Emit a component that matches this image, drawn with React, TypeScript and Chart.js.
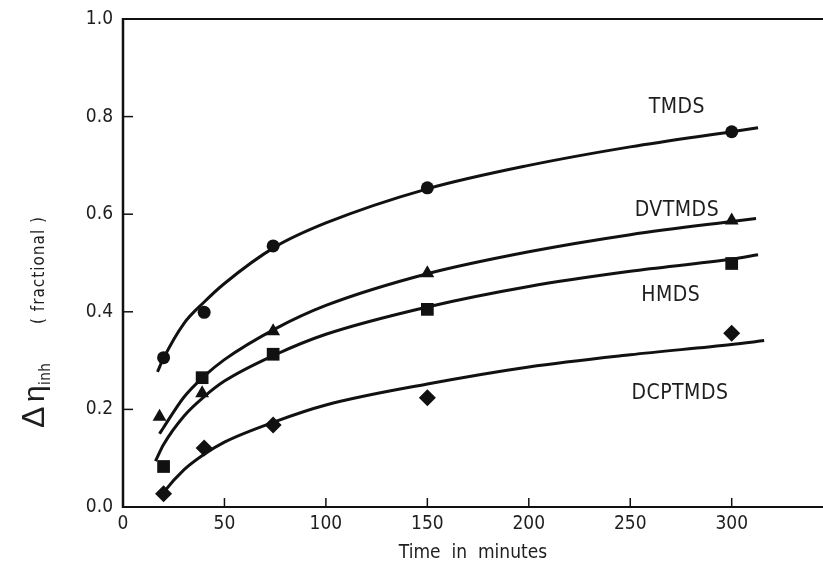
import React, { useEffect, useRef } from 'react';
import { Chart, registerables } from 'chart.js';

Chart.register(...registerables);

// ---------- data ----------
const SERIES_NAMES = ['TMDS', 'DVTMDS', 'HMDS', 'DCPTMDS'];
const POINT_STYLES = ['circle', 'triangle', 'rect', 'rectRot'];
const POINT_RADII = [6.5, 8, 9, 8.5];

// measured points (time in minutes, fractional Δη_inh)
const TMDS_X = [20, 40, 74, 150, 300];
const TMDS_Y = [0.306, 0.399, 0.535, 0.654, 0.769];
const DVTMDS_X = [18, 39, 74, 150, 300];
const DVTMDS_Y = [0.185, 0.233, 0.36, 0.479, 0.587];
const HMDS_X = [20, 39, 74, 150, 300];
const HMDS_Y = [0.083, 0.265, 0.313, 0.405, 0.499];
const DCPTMDS_X = [20, 40, 74, 150, 300];
const DCPTMDS_Y = [0.027, 0.121, 0.168, 0.224, 0.356];

// fitted curves
const TMDS_CURVE_X = [17, 20, 30, 40, 50, 75, 100, 150, 200, 250, 300, 313];
const TMDS_CURVE_Y = [0.277, 0.305, 0.376, 0.42, 0.458, 0.533, 0.582, 0.652, 0.7, 0.738, 0.769, 0.777];
const DVTMDS_CURVE_X = [18, 20, 30, 40, 50, 75, 100, 150, 200, 250, 300, 312];
const DVTMDS_CURVE_Y = [0.15, 0.163, 0.225, 0.268, 0.302, 0.365, 0.413, 0.478, 0.523, 0.558, 0.585, 0.591];
const HMDS_CURVE_X = [16, 20, 30, 40, 50, 75, 100, 150, 200, 250, 300, 313];
const HMDS_CURVE_Y = [0.094, 0.128, 0.186, 0.226, 0.258, 0.312, 0.354, 0.41, 0.452, 0.483, 0.508, 0.517];
const DCPTMDS_CURVE_X = [19, 20, 30, 40, 50, 75, 100, 150, 200, 250, 300, 316];
const DCPTMDS_CURVE_Y = [0.024, 0.03, 0.076, 0.108, 0.133, 0.175, 0.209, 0.252, 0.287, 0.312, 0.333, 0.341];

// series name labels, placed in data coordinates
const LABEL_X = [273, 273, 270, 274.5];
const LABEL_Y = [0.818, 0.607, 0.434, 0.233];

const X_TICKS = [0, 50, 100, 150, 200, 250, 300];
const Y_TICKS = [0, 0.2, 0.4, 0.6, 0.8, 1.0];
const X_MAX = 345;

// ---------- styles ----------
const INK = '#111111';
const TEXT = '#1e1e1e';
const COND = "'DejaVu Sans Condensed', 'Liberation Sans Narrow', 'Liberation Sans', sans-serif";
const SANS = "'Liberation Sans', 'DejaVu Sans', sans-serif";

const pts = (xs: number[], ys: number[]) => xs.map((x, i) => ({ x, y: ys[i] }));

const MARKERS = [
  pts(TMDS_X, TMDS_Y),
  pts(DVTMDS_X, DVTMDS_Y),
  pts(HMDS_X, HMDS_Y),
  pts(DCPTMDS_X, DCPTMDS_Y),
];
const CURVES = [
  pts(TMDS_CURVE_X, TMDS_CURVE_Y),
  pts(DVTMDS_CURVE_X, DVTMDS_CURVE_Y),
  pts(HMDS_CURVE_X, HMDS_CURVE_Y),
  pts(DCPTMDS_CURVE_X, DCPTMDS_CURVE_Y),
];

const framePlugin = {
  id: 'frame',
  beforeDatasetsDraw(chart: any) {
    const { ctx, chartArea: a, scales } = chart;
    const x = scales.x;
    const y = scales.y;
    ctx.save();
    ctx.strokeStyle = INK;
    ctx.lineCap = 'butt';
    ctx.lineWidth = 2.5;
    ctx.beginPath();
    ctx.moveTo(a.left, a.top - 1);
    ctx.lineTo(a.left, a.bottom + 1);
    ctx.stroke();
    ctx.lineWidth = 2;
    ctx.beginPath();
    ctx.moveTo(a.left - 1, a.bottom);
    ctx.lineTo(a.right, a.bottom);
    ctx.stroke();
    ctx.beginPath();
    ctx.moveTo(a.left - 1, a.top);
    ctx.lineTo(a.right, a.top);
    ctx.stroke();
    ctx.lineWidth = 1.5;
    X_TICKS.forEach((v) => {
      if (v <= 0) return;
      const px = x.getPixelForValue(v);
      ctx.beginPath();
      ctx.moveTo(px, a.bottom);
      ctx.lineTo(px, a.bottom - 9);
      ctx.stroke();
    });
    Y_TICKS.forEach((v) => {
      if (v <= 0 || v >= 1) return;
      const py = y.getPixelForValue(v);
      ctx.beginPath();
      ctx.moveTo(a.left, py);
      ctx.lineTo(a.left + 10, py);
      ctx.stroke();
    });
    ctx.restore();
  },
};

const labelPlugin = {
  id: 'seriesLabels',
  afterDatasetsDraw(chart: any) {
    const { ctx, scales } = chart;
    ctx.save();
    ctx.fillStyle = TEXT;
    (ctx as any).letterSpacing = '0.5px';
    ctx.font = `21px ${COND}`;
    ctx.textAlign = 'center';
    ctx.textBaseline = 'middle';
    SERIES_NAMES.forEach((name, i) => {
      ctx.fillText(name, scales.x.getPixelForValue(LABEL_X[i]), scales.y.getPixelForValue(LABEL_Y[i]));
    });
    ctx.restore();
  },
};

const TITLE_BASE_X = 44;
const TITLE_START_Y = 428;

const yTitlePlugin = {
  id: 'yTitle',
  afterDraw(chart: any) {
    const ctx = chart.ctx;
    ctx.save();
    ctx.fillStyle = TEXT;
    ctx.translate(TITLE_BASE_X, TITLE_START_Y);
    ctx.rotate(-Math.PI / 2);
    ctx.textAlign = 'left';
    ctx.textBaseline = 'alphabetic';
    (ctx as any).letterSpacing = '0px';
    ctx.font = `32px ${SANS}`;
    ctx.fillText('Δ', 0, 0);
    ctx.font = `30px ${SANS}`;
    ctx.fillText('η', 26, 0);
    ctx.font = `15px ${COND}`;
    (ctx as any).letterSpacing = '0.5px';
    ctx.fillText('inh', 43, 6);
    ctx.font = `17px ${COND}`;
    (ctx as any).letterSpacing = '1px';
    ctx.fillText('( fractional )', 104, 0);
    ctx.restore();
  },
};

const resetSpacingPlugin = {
  id: 'resetSpacing',
  beforeDraw(chart: any) {
    (chart.ctx as any).letterSpacing = '0px';
  },
};

export default function App() {
  const ref = useRef<HTMLCanvasElement>(null);

  useEffect(() => {
    if (!ref.current) return;
    const datasets: any[] = [];
    CURVES.forEach((data, i) => {
      datasets.push({
        label: SERIES_NAMES[i] + ' fit',
        data,
        showLine: true,
        borderColor: INK,
        borderWidth: 3,
        pointRadius: 0,
        cubicInterpolationMode: 'monotone',
        fill: false,
      });
    });
    MARKERS.forEach((data, i) => {
      datasets.push({
        label: SERIES_NAMES[i],
        data,
        showLine: false,
        pointStyle: POINT_STYLES[i],
        pointRadius: POINT_RADII[i],
        pointBackgroundColor: INK,
        pointBorderColor: INK,
        pointBorderWidth: 0,
      });
    });

    const chart = new Chart(ref.current, {
      type: 'scatter',
      data: { datasets },
      options: {
        animation: false,
        responsive: false,
        maintainAspectRatio: false,
        devicePixelRatio: 1,
        layout: { autoPadding: false, padding: { top: 19, right: 0, left: 0, bottom: 0 } },
        plugins: {
          legend: { display: false },
          tooltip: { enabled: false },
        },
        scales: {
          x: {
            type: 'linear',
            min: 0,
            max: X_MAX,
            afterBuildTicks: (s: any) => {
              s.ticks = X_TICKS.map((v) => ({ value: v }));
            },
            afterFit: (s: any) => {
              s.height = 64;
              s.paddingLeft = 0;
              s.paddingRight = 0;
            },
            grid: { display: false, drawTicks: false },
            border: { display: false },
            ticks: {
              color: TEXT,
              padding: 6,
              maxRotation: 0,
              autoSkip: false,
              font: { family: COND, size: 19 },
              callback: (v: any) => String(v),
            },
            title: {
              display: true,
              text: 'Time  in  minutes',
              color: TEXT,
              font: { family: COND, size: 19 },
              padding: { top: 0, bottom: 7 },
            },
          },
          y: {
            type: 'linear',
            min: 0,
            max: 1,
            afterBuildTicks: (s: any) => {
              s.ticks = Y_TICKS.map((v) => ({ value: v }));
            },
            afterFit: (s: any) => {
              s.width = 123;
              s.paddingTop = 0;
              s.paddingBottom = 0;
            },
            grid: { display: false, drawTicks: false },
            border: { display: false },
            ticks: {
              color: TEXT,
              padding: 10,
              font: { family: COND, size: 19 },
              callback: (v: any) => Number(v).toFixed(1),
            },
          },
        },
      },
      plugins: [resetSpacingPlugin, framePlugin, labelPlugin, yTitlePlugin],
    } as any);

    return () => chart.destroy();
  }, []);

  return (
    <div style={{ position: 'absolute', left: 0, top: 0, width: 823, height: 571, background: '#ffffff' }}>
      <canvas ref={ref} width={823} height={571} style={{ display: 'block', width: 823, height: 571 }} />
    </div>
  );
}
